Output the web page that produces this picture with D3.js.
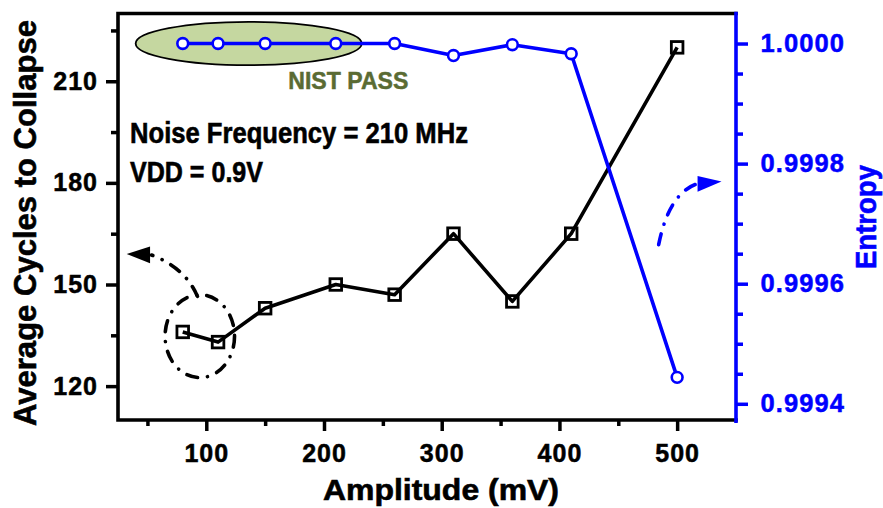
<!DOCTYPE html>
<html>
<head>
<meta charset="utf-8">
<script src="https://cdn.jsdelivr.net/npm/d3@7"></script>
<style>
  body { margin: 0; background: #fff; }
  text { font-family: "Liberation Sans", Arial, sans-serif; font-weight: bold; }
</style>
</head>
<body>
<div id="chart"></div>
<script>
// data
var amplitude = [80, 110, 150, 210, 260, 310, 360, 410, 500];
var cycles    = [136, 133, 143, 150, 147, 165, 145, 165, 220];
var entropy   = [1.0, 1.0, 1.0, 1.0, 1.0, 0.99998, 0.999998, 0.999983, 0.999444];

var xTicks = [100, 200, 300, 400, 500];
var xMinor = [50, 150, 250, 350, 450];
var leftTicks = [120, 150, 180, 210];
var leftMinor = [135, 165, 195, 225];
var rightTicks = [0.9994, 0.9996, 0.9998, 1.0000];
var rightMinor = [0.99945, 0.9995, 0.99955, 0.99965, 0.9997, 0.99975, 0.99985, 0.9999, 0.99995];

var W = 883, H = 508;
var margin = {top: 13.5, right: 147, bottom: 88, left: 118};
var width = W - margin.left - margin.right,
    height = H - margin.top - margin.bottom;
var BLUE = "#0000ff";

var x = d3.scaleLinear().domain([25, 550]).range([0, width]);
var yL = d3.scaleLinear().domain([110, 230]).range([height, 0]);
var yR = d3.scaleLinear().domain([0.999373, 1.00005]).range([height, 0]);

var svg = d3.select("#chart").append("svg")
    .attr("width", W).attr("height", H);

var g = svg.append("g")
    .attr("transform", "translate(" + margin.left + "," + margin.top + ")");

// bold text a bit heavier, like the original export
function heavy(sel, color, w) {
  sel.attr("fill", color).attr("stroke", color).attr("stroke-width", w || 0.6);
}

// NIST PASS ellipse (behind the lines)
g.append("ellipse")
    .attr("cx", (x(40) + x(232)) / 2)
    .attr("cy", yR(1.0))
    .attr("rx", (x(232) - x(40)) / 2)
    .attr("ry", 21.7)
    .attr("fill", "#c5d7a0")
    .attr("stroke", "#000")
    .attr("stroke-width", 1.8);

g.append("text")
    .attr("x", 288.3 - margin.left).attr("y", 89.3 - margin.top)
    .attr("font-size", 24.5)
    .attr("textLength", 120).attr("lengthAdjust", "spacingAndGlyphs")
    .text("NIST PASS")
    .call(heavy, "#5a6b33", 0.5);

g.append("text")
    .attr("x", 130 - margin.left).attr("y", 143.3 - margin.top)
    .attr("font-size", 29)
    .attr("textLength", 338).attr("lengthAdjust", "spacingAndGlyphs")
    .text("Noise Frequency = 210 MHz")
    .call(heavy, "#000", 0.6);

g.append("text")
    .attr("x", 130 - margin.left).attr("y", 181.7 - margin.top)
    .attr("font-size", 29)
    .attr("textLength", 133).attr("lengthAdjust", "spacingAndGlyphs")
    .text("VDD = 0.9V")
    .call(heavy, "#000", 0.6);

// dash-dot annotations
var dash = "11,10,0.1,10";

g.append("ellipse")
    .attr("cx", (x(65) + x(124)) / 2)
    .attr("cy", (yL(122.5) + yL(147)) / 2)
    .attr("rx", (x(124) - x(65)) / 2)
    .attr("ry", (yL(122.5) - yL(147)) / 2)
    .attr("fill", "none").attr("stroke", "#000")
    .attr("stroke-width", 3.6).attr("stroke-linecap", "round")
    .attr("stroke-dasharray", dash);

// black arrow pointing to left axis
var bStart = [x(92.5), yL(146.5)], bCtrl = [x(82), yL(155)], bEnd = [x(53.5), yL(158.7)];
g.append("path")
    .attr("d", "M" + bStart + "Q" + bCtrl + " " + bEnd)
    .attr("fill", "none").attr("stroke", "#000")
    .attr("stroke-width", 3.6).attr("stroke-linecap", "round")
    .attr("stroke-dasharray", dash);
var bTip = [x(32.4), yL(159)];
g.append("path")
    .attr("d", "M" + bTip + "L" + [bEnd[0] - 1.5, bEnd[1] - 8.5] + "L" + [bEnd[0] - 1.5, bEnd[1] + 8.3] + "Z")
    .attr("fill", "#000");

// blue arrow pointing to right axis
var uStart = [x(484.3), yR(0.999665)], uCtrl = [x(493), yR(0.99975)], uEnd = [x(516.5), yR(0.999766)];
g.append("path")
    .attr("d", "M" + uStart + "Q" + uCtrl + " " + uEnd)
    .attr("fill", "none").attr("stroke", BLUE)
    .attr("stroke-width", 3.6).attr("stroke-linecap", "round")
    .attr("stroke-dasharray", dash);
var uTip = [x(537.7), yR(0.99977)];
g.append("path")
    .attr("d", "M" + uTip + "L" + [uEnd[0] + 1, uEnd[1] - 8] + "L" + [uEnd[0] + 1, uEnd[1] + 7.7] + "Z")
    .attr("fill", BLUE);

// series
var blackPts = amplitude.map(function(a, i) { return [a, cycles[i]]; });
var bluePts = amplitude.map(function(a, i) { return [a, entropy[i]]; });

g.append("path")
    .datum(blackPts)
    .attr("fill", "none").attr("stroke", "#000").attr("stroke-width", 3.6)
    .attr("stroke-linejoin", "round")
    .attr("d", d3.line().x(function(d) { return x(d[0]); }).y(function(d) { return yL(d[1]); }));

g.selectAll(".sq")
    .data(blackPts)
    .enter().append("rect")
    .attr("class", "sq")
    .attr("x", function(d) { return x(d[0]) - 5.8; })
    .attr("y", function(d) { return yL(d[1]) - 5.8; })
    .attr("width", 11.6).attr("height", 11.6)
    .attr("fill", "none").attr("stroke", "#000").attr("stroke-width", 2.8);

g.append("path")
    .datum(bluePts)
    .attr("fill", "none").attr("stroke", BLUE).attr("stroke-width", 3.6)
    .attr("stroke-linejoin", "round")
    .attr("d", d3.line().x(function(d) { return x(d[0]); }).y(function(d) { return yR(d[1]); }));

g.selectAll(".ci")
    .data(bluePts)
    .enter().append("circle")
    .attr("class", "ci")
    .attr("cx", function(d) { return x(d[0]); })
    .attr("cy", function(d) { return yR(d[1]); })
    .attr("r", 5.4)
    .attr("fill", "#fff").attr("stroke", BLUE).attr("stroke-width", 2.6);

// axes
function styleAxis(sel, color, fs, ls) {
  sel.selectAll(".domain").remove();
  sel.selectAll("line").attr("stroke", color).attr("stroke-width", 3.5);
  sel.selectAll("text").attr("font-size", fs)
     .style("letter-spacing", ls + "px")
     .call(heavy, color, 0.5);
}

var ax = g.append("g").attr("transform", "translate(0," + height + ")")
    .call(d3.axisBottom(x).tickValues(xTicks).tickSize(11).tickPadding(13).tickFormat(d3.format("d")));
styleAxis(ax, "#000", 25, 1);
var axm = g.append("g").attr("transform", "translate(0," + height + ")")
    .call(d3.axisBottom(x).tickValues(xMinor).tickSize(6).tickFormat(""));
styleAxis(axm, "#000", 25, 0);

var al = g.append("g")
    .call(d3.axisLeft(yL).tickValues(leftTicks).tickSize(12).tickPadding(9).tickFormat(d3.format("d")));
styleAxis(al, "#000", 25, 1);
al.selectAll("text").attr("dx", "1px");
var alm = g.append("g")
    .call(d3.axisLeft(yL).tickValues(leftMinor).tickSize(7).tickFormat(""));
styleAxis(alm, "#000", 25, 0);

var ar = g.append("g").attr("transform", "translate(" + width + ",0)")
    .call(d3.axisRight(yR).tickValues(rightTicks).tickSize(12).tickPadding(12.5).tickFormat(d3.format(".4f")));
styleAxis(ar, BLUE, 25.5, 1.1);
var arm = g.append("g").attr("transform", "translate(" + width + ",0)")
    .call(d3.axisRight(yR).tickValues(rightMinor).tickSize(7).tickFormat(""));
styleAxis(arm, BLUE, 25, 0);

// frame
g.append("path")
    .attr("d", "M" + width + ",0H0V" + height + "H" + width)
    .attr("fill", "none").attr("stroke", "#000").attr("stroke-width", 3.6)
    .attr("stroke-linecap", "square");
g.append("line")
    .attr("x1", width).attr("x2", width).attr("y1", -1.8).attr("y2", height + 3)
    .attr("stroke", BLUE).attr("stroke-width", 3.6);

// titles
svg.append("text")
    .attr("x", 441).attr("y", 499.5)
    .attr("text-anchor", "middle")
    .attr("font-size", 29)
    .attr("textLength", 236).attr("lengthAdjust", "spacingAndGlyphs")
    .text("Amplitude (mV)")
    .call(heavy, "#000", 0.6);

svg.append("text")
    .attr("transform", "translate(35.5,223) rotate(-90)")
    .attr("text-anchor", "middle")
    .attr("font-size", 31)
    .attr("textLength", 406).attr("lengthAdjust", "spacingAndGlyphs")
    .text("Average Cycles to Collapse")
    .call(heavy, "#000", 0.6);

svg.append("text")
    .attr("transform", "translate(876,217) rotate(-90)")
    .attr("text-anchor", "middle")
    .attr("font-size", 30)
    .attr("textLength", 104).attr("lengthAdjust", "spacingAndGlyphs")
    .text("Entropy")
    .call(heavy, BLUE, 0.6);
</script>
</body>
</html>
